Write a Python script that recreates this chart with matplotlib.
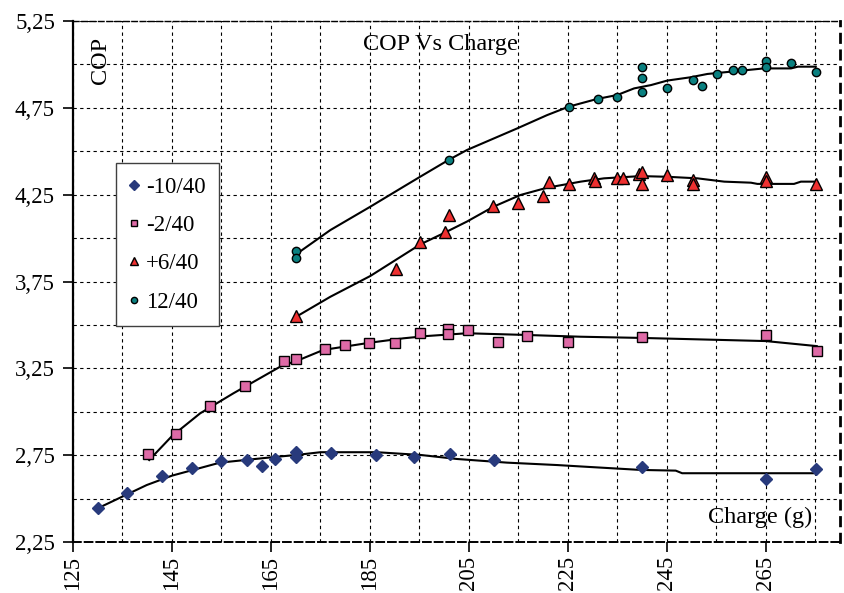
import matplotlib
matplotlib.use("Agg")
import matplotlib.pyplot as plt
from matplotlib.ticker import FixedLocator, FuncFormatter

plt.rcParams['font.family'] = ['Liberation Serif', 'DejaVu Serif']

# ---- data ----
labels = ["-10/40", "-2/40", "+6/40", "12/40"]

x_m10 = [130.1, 135.9, 142.9, 149.0, 154.9, 160.1, 163.2, 165.9, 170.1, 170.1, 177.2, 186.3, 194.0, 201.1, 210.0, 240.0, 265.0, 275.2]
y_m10 = [2.444, 2.534, 2.632, 2.678, 2.716, 2.720, 2.688, 2.730, 2.770, 2.741, 2.764, 2.751, 2.741, 2.757, 2.722, 2.680, 2.613, 2.669]
tx_m10 = [130.0, 139.9, 145.0, 154.7, 165.2, 170.1, 175.0, 186.4, 195.3, 202.6, 212.7, 222.9, 227.6, 239.7, 246.8, 248.1, 275.2]
ty_m10 = [2.444, 2.578, 2.632, 2.707, 2.738, 2.751, 2.767, 2.767, 2.751, 2.728, 2.707, 2.693, 2.685, 2.665, 2.661, 2.646, 2.646]

x_m2 = [140.1, 145.8, 152.7, 159.8, 167.7, 170.0, 176.0, 179.9, 184.9, 190.0, 195.2, 200.8, 200.8, 204.8, 210.9, 216.8, 225.0, 240.0, 265.0, 275.3]
y_m2 = [2.757, 2.870, 3.035, 3.148, 3.292, 3.304, 3.360, 3.384, 3.394, 3.394, 3.452, 3.475, 3.450, 3.471, 3.403, 3.436, 3.403, 3.430, 3.440, 3.350]
tx_m2 = [140.4, 145.0, 150.7, 157.4, 166.9, 171.0, 175.6, 185.1, 191.8, 196.5, 204.6, 216.8, 227.6, 240.0, 265.0, 275.3]
ty_m2 = [2.722, 2.860, 2.991, 3.106, 3.260, 3.302, 3.356, 3.398, 3.423, 3.436, 3.452, 3.442, 3.432, 3.425, 3.407, 3.378]

x_p6 = [170.1, 190.2, 195.2, 200.1, 200.9, 209.8, 214.9, 220.0, 221.2, 225.2, 230.3, 230.4, 235.0, 236.1, 239.4, 240.0, 240.0, 245.1, 250.2, 250.3, 265.0, 265.0, 275.1]
y_p6 = [3.553, 3.821, 3.976, 4.034, 4.133, 4.187, 4.200, 4.242, 4.321, 4.310, 4.344, 4.329, 4.344, 4.344, 4.369, 4.379, 4.310, 4.363, 4.334, 4.310, 4.350, 4.330, 4.310]
tx_p6 = [170.1, 177.0, 185.1, 195.2, 199.9, 204.6, 210.0, 215.4, 220.8, 227.6, 232.3, 239.7, 245.1, 251.2, 256.6, 262.0, 263.3, 270.7, 272.1, 275.1]
ty_p6 = [3.547, 3.662, 3.782, 3.964, 4.028, 4.095, 4.181, 4.248, 4.290, 4.325, 4.344, 4.357, 4.353, 4.344, 4.325, 4.319, 4.312, 4.312, 4.325, 4.325]

x_12 = [170.1, 170.1, 200.9, 225.2, 231.1, 235.0, 240.0, 240.0, 240.0, 245.1, 250.2, 252.2, 255.2, 258.3, 260.1, 265.0, 265.0, 270.1, 275.1]
y_12 = [3.926, 3.884, 4.450, 4.757, 4.801, 4.811, 4.843, 4.920, 4.987, 4.867, 4.910, 4.876, 4.945, 4.968, 4.968, 5.021, 4.987, 5.010, 4.955]
tx_12 = [170.1, 177.0, 185.1, 191.8, 195.2, 200.9, 204.6, 214.8, 220.8, 225.2, 230.9, 235.0, 238.4, 241.8, 245.1, 249.8, 253.2, 260.0, 264.6, 270.1, 271.5, 275.1]
ty_12 = [3.907, 4.046, 4.181, 4.296, 4.354, 4.450, 4.507, 4.632, 4.708, 4.757, 4.801, 4.824, 4.862, 4.881, 4.907, 4.926, 4.945, 4.964, 4.977, 4.977, 4.987, 4.987]

x_ticks = [125, 145, 165, 185, 205, 225, 245, 265]
y_ticks = [2.25, 2.75, 3.25, 3.75, 4.25, 4.75, 5.25]

# ---- figure ----
fig = plt.figure(figsize=(8.44, 5.93), dpi=100)
ax = fig.add_axes([73/844, 51/593, 767/844, 521/593])

ax.set_xlim(125, 280)
ax.set_ylim(2.25, 5.25)

ax.xaxis.set_major_locator(FixedLocator(x_ticks))
ax.xaxis.set_minor_locator(FixedLocator(list(range(135, 280, 10))))
ax.yaxis.set_major_locator(FixedLocator(y_ticks))
ax.yaxis.set_minor_locator(FixedLocator([2.5 + 0.5 * i for i in range(6)]))
ax.yaxis.set_major_formatter(FuncFormatter(lambda v, p: f"{v:.2f}".replace('.', ',')))
ax.xaxis.set_major_formatter(FuncFormatter(lambda v, p: f"{int(round(v))}"))

ax.grid(which='both', color='black', linestyle=(0, (3, 3)), linewidth=0.8)
ax.set_axisbelow(True)
ax.tick_params(which='minor', length=0)
ax.tick_params(which='major', direction='out', length=7, width=1.2, labelsize=16.5, color='black')
plt.setp(ax.get_xticklabels(), rotation=90)
ax.tick_params(axis='x', pad=3)
ax.tick_params(axis='y', pad=6)

ax.spines['left'].set_linewidth(1.6)
ax.spines['bottom'].set_linewidth(1.4)
ax.spines['bottom'].set_linestyle((0, (4, 2)))
ax.spines['top'].set_linewidth(1.0)
ax.spines['top'].set_linestyle((0, (4, 2)))
ax.spines['right'].set_linewidth(2.0)
ax.spines['right'].set_linestyle((0, (3, 3)))

# trend lines
for tx, ty in [(tx_m10, ty_m10), (tx_m2, ty_m2), (tx_p6, ty_p6), (tx_12, ty_12)]:
    ax.plot(tx, ty, color='black', linewidth=1.5, zorder=3)

# markers
ax.plot(x_m10, y_m10, linestyle='none', marker='D', markersize=6.5, color='#283a7c',
        markeredgecolor='#283a7c', label=labels[0], zorder=4)
ax.plot(x_m2, y_m2, linestyle='none', marker='s', markersize=6.5, color='#de6aa6',
        markeredgecolor='black', markeredgewidth=1.0, label=labels[1], zorder=4)
ax.plot(x_p6, y_p6, linestyle='none', marker='^', markersize=8, color='#ee3030',
        markeredgecolor='black', markeredgewidth=1.0, label=labels[2], zorder=4)
ax.plot(x_12, y_12, linestyle='none', marker='o', markersize=6, color='#0a8080',
        markeredgecolor='black', markeredgewidth=1.0, label=labels[3], zorder=4)

leg = ax.legend(loc='upper left', bbox_to_anchor=(0.056, 0.727), fontsize=16.5,
                frameon=True, fancybox=False, edgecolor='#404040', framealpha=1,
                markerscale=0.75, handlelength=0.4, handletextpad=0.3,
                labelspacing=0.75, borderpad=0.6, borderaxespad=0)
leg.get_frame().set_linewidth(1.0)

ax.text(0.4785, 0.954, "COP Vs Charge", transform=ax.transAxes, ha='center', va='center', fontsize=17.5)
ax.text(0.0365, 0.925, "COP", transform=ax.transAxes, ha='center', va='center', rotation=90, fontsize=17.5)
ax.text(0.896, 0.048, "Charge (g)", transform=ax.transAxes, ha='center', va='center', fontsize=17.5)

fig.savefig("out.png", dpi=100)
